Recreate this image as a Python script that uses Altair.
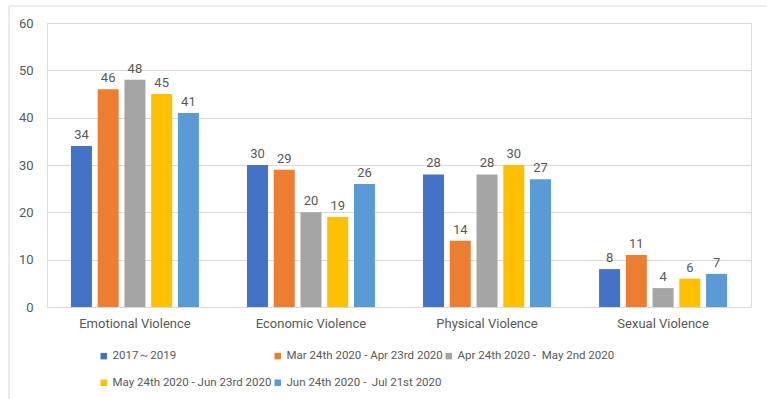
import altair as alt
import pandas as pd

categories = ["Emotional Violence", "Economic Violence", "Physical Violence", "Sexual Violence"]
periods = [
    "2017～2019",
    "Mar 24th 2020 - Apr 23rd 2020",
    "Apr 24th 2020 -\u00a0 May 2nd 2020",
    "May 24th 2020 - Jun 23rd 2020",
    "Jun 24th 2020 -\u00a0 Jul 21st 2020",
]
v_2017_2019 = [34, 30, 28, 8]
v_mar_apr = [46, 29, 14, 11]
v_apr_may = [48, 20, 28, 4]
v_may_jun = [45, 19, 30, 6]
v_jun_jul = [41, 26, 27, 7]
colors = ["#4472C4", "#ED7D31", "#A5A5A5", "#FFC000", "#5B9BD5"]

series = [v_2017_2019, v_mar_apr, v_apr_may, v_may_jun, v_jun_jul]
rows = []
for p, vals in zip(periods, series):
    for c, v in zip(categories, vals):
        rows.append({"category": c, "period": p, "value": v})
df = pd.DataFrame(rows)

FONT = "Roboto"
TXT = "#595959"

x_enc = alt.X("category:N", sort=categories, title=None,
              scale=alt.Scale(paddingInner=0.273, paddingOuter=0.136),
              axis=alt.Axis(labelAngle=0, labelFontSize=13, labelColor=TXT, labelFont=FONT,
                            labelPadding=10, ticks=False, domainColor="#d9d9d9"))
xo = alt.XOffset("period:N", sort=periods, scale=alt.Scale(paddingInner=0.215, paddingOuter=0))
y_enc = alt.Y("value:Q", title=None,
              scale=alt.Scale(domain=[0, 60]),
              axis=alt.Axis(values=[0, 10, 20, 30, 40, 50, 60], domain=False, ticks=False,
                            gridColor="#d9d9d9", labelFontSize=13, labelColor=TXT, labelFont=FONT,
                            labelPadding=14))

base = alt.Chart(df)

bars = base.mark_bar().encode(
    x=x_enc, xOffset=xo, y=y_enc,
    color=alt.Color("period:N", sort=periods,
                    scale=alt.Scale(domain=periods, range=colors),
                    legend=alt.Legend(title=None, orient="none", legendX=51, legendY=327,
                                      direction="horizontal", columns=3,
                                      symbolType="square", symbolSize=42,
                                      labelFontSize=11.5, labelColor=TXT, labelFont=FONT,
                                      labelLimit=0,
                                      columnPadding=0, rowPadding=14, symbolOffset=0,
                                      labelOffset=3)),
)

labels = base.mark_text(baseline="bottom", dy=-4, fontSize=13, color=TXT, font=FONT).encode(
    x=alt.X("category:N", sort=categories), xOffset=alt.XOffset("period:N", sort=periods),
    y="value:Q", text="value:Q",
)

frame = alt.Chart(pd.DataFrame({"a": [0]})).mark_rect(
    fill=None, stroke="#d9d9d9", strokeWidth=1
).encode(x=alt.value(-38), x2=alt.value(760), y=alt.value(-17), y2=alt.value(400))

chart = alt.layer(frame, bars, labels).properties(
    width=704, height=284,
    padding={"left": 47, "top": 23, "right": 16, "bottom": 92},
    autosize=alt.AutoSizeParams(type="none"),
).configure_view(stroke=None).configure(background="white")

chart.save("out.html", embed_options={"renderer": "svg", "actions": False})
